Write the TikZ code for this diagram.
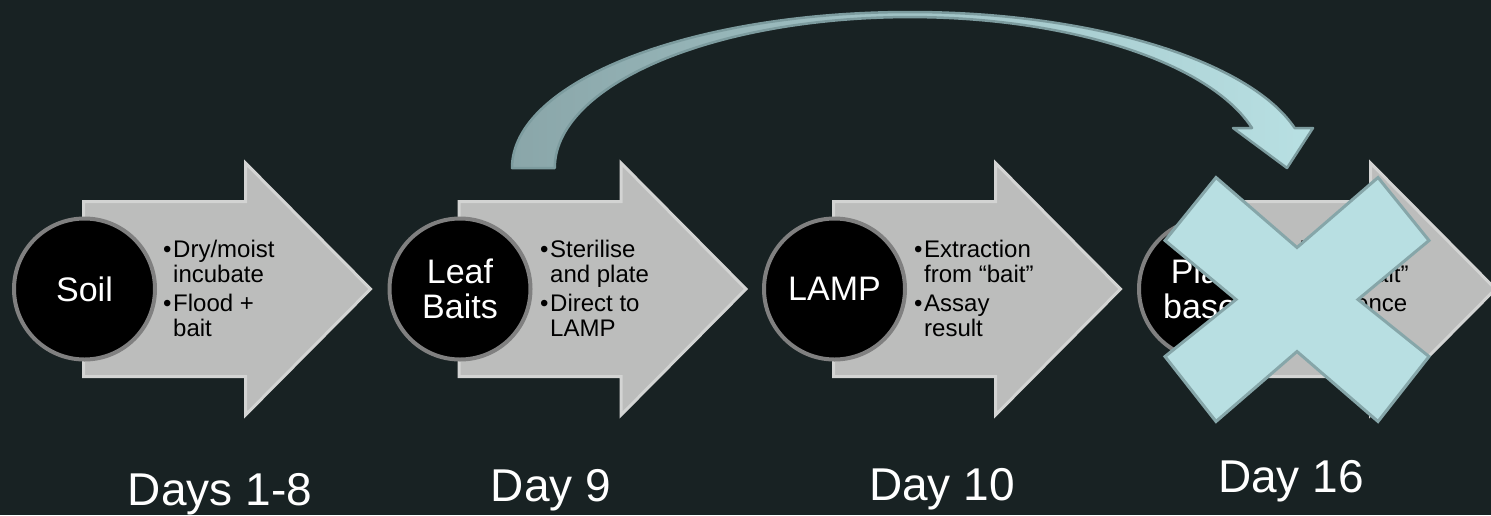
\documentclass[tikz,border=0pt]{standalone}
\usepackage{fontspec}
\setmainfont{Liberation Sans}

\definecolor{slidebg}{RGB}{24,34,35}
\definecolor{stagegray}{RGB}{188,189,188}
\definecolor{stageedge}{RGB}{211,212,211}
\definecolor{ringgray}{RGB}{128,128,128}
\definecolor{jumpdark}{RGB}{138,166,169}
\definecolor{jumplight}{RGB}{184,224,227}
\definecolor{jumpedge}{RGB}{124,155,158}
\definecolor{crossfill}{RGB}{184,223,226}
\definecolor{crossedge}{RGB}{134,166,169}

\tikzset{
  stagearrow/.style={fill=stagegray, draw=stageedge, line width=3pt},
  stagecircle/.style={circle, fill=black, draw=ringgray, line width=4pt,
    minimum size=141pt, inner sep=0pt, text=white, align=center,
    font=\fontsize{34}{35}\selectfont},
  stagenotes/.style={anchor=base west, inner sep=0pt,
    font=\fontsize{24}{25.5}\selectfont},
  daylabel/.style={anchor=base, inner sep=0pt, text=white,
    font=\fontsize{46}{48}\selectfont},
  jumparrow/.style={left color=jumpdark, right color=jumplight,
    draw=jumpedge, line width=2.5pt, line join=round},
  crossmark/.style={fill=crossfill, draw=crossedge, line width=3pt},
}

\newcommand{\twobullets}[4]{%
  \begin{tabular}[t]{@{}l@{\hspace{1.6pt}}l@{}}
    \textbullet & #1\\ & #2\\[3pt]
    \textbullet & #3\\ & #4
  \end{tabular}}

\begin{document}
\begin{tikzpicture}[x=1pt, y=-1pt]

  % slide background
  \fill[slidebg] (0,0) rectangle (1491,515);
  \useasboundingbox (0,0) rectangle (1491,515);

  % block arrows behind the stages
  \foreach \cx in {84.5,460,834.5,1209.5}
    \draw[stagearrow] ({\cx-1},201.5) -- ({\cx+161},201.5) -- ({\cx+161},163)
          -- ({\cx+286},289) -- ({\cx+161},415) -- ({\cx+161},376.5)
          -- ({\cx-1},376.5) -- cycle;

  % stage circles
  \node[stagecircle] (soil) at (84.5,289) {Soil};
  \node[stagecircle] (leafbaits) at (460,289) {Leaf\\Baits};
  \node[stagecircle] (lamp) at (834.5,289) {LAMP};
  \node[stagecircle] (platebased) at (1209.5,289) {Plate\\based};

  % bullet notes
  \node[stagenotes] (soilnotes) at (163,257) {\twobullets{Dry/moist}{incubate}{Flood +}{bait}};
  \node[stagenotes] (leafnotes) at (540,257) {\twobullets{Sterilise}{and plate}{Direct to}{LAMP}};
  \node[stagenotes] (lampnotes) at (914,257) {\twobullets{Extraction}{from “bait”}{Assay}{result}};
  \node[stagenotes] (platenotes) at (1289,257) {\twobullets{Isolation}{from “bait”}{Sequence}{}};

  % day labels
  \node[daylabel] (days1to8) at (220,505) {Days 1-8};
  \node[daylabel] (day9) at (551,501) {Day 9};
  \node[daylabel] (day10) at (942,500) {Day 10};
  \node[daylabel] (day16) at (1291,492) {Day 16};

  % jump from leaf baits straight to day 16
  \draw[jumparrow] (512,168) arc[start angle=180, end angle=345.2, x radius=398, y radius=156]
        -- (1313,128) -- (1287,168) -- (1233,128) -- (1252,128)
        arc[start angle=344.6, end angle=180, x radius=355, y radius=151] -- cycle;

  % crossed out stage
  \draw[crossmark, shift={(1297,299.5)}] (-81,-122) -- (0,-52) -- (81,-122) -- (132,-59)
        -- (61,0) -- (132,57) -- (81,122) -- (0,52) -- (-81,122) -- (-132,57)
        -- (-61,0) -- (-132,-59) -- cycle;

\end{tikzpicture}
\end{document}
